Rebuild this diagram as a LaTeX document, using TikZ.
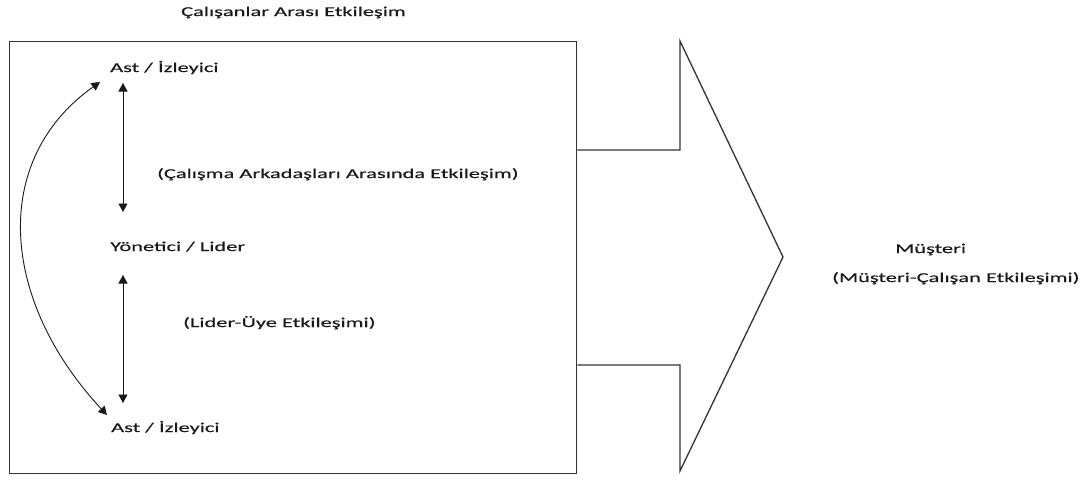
\documentclass[tikz,border=0pt]{standalone}
\usepackage{fontspec}
\setmainfont{Carlito}[FakeStretch=1.66,FakeBold=0.4]
\usetikzlibrary{arrows.meta}
\begin{document}
\begin{tikzpicture}[x=1pt,y=-1pt,
  lbl/.style={anchor=base west, inner sep=0pt, font=\fontsize{13.5}{16}\selectfont, text=black!90},
  frame/.style={draw=black!80, line width=1.3pt},
  dbl/.style={{Triangle[length=8.5pt,width=9pt]}-{Triangle[length=8.5pt,width=9pt]}, line width=0.9pt, draw=black!90}]
\useasboundingbox (0,0) rectangle (1080,480);
% box
\node[frame, anchor=north west, inner sep=0pt, minimum width=567pt, minimum height=432pt] (box) at (9,41) {};
% big arrow
\coordinate (s1) at (680,150);
\coordinate (s2) at (680,41);
\coordinate (tipp) at (783,257);
\coordinate (s3) at (680,471);
\coordinate (s4) at (680,365);
\draw[frame, line join=miter] (box.east |- s1) -- (s1) -- (s2) -- (tipp) -- (s3) -- (s4) -- (box.east |- s4);
% texts
\node[lbl] (title) at (181,16) {Çalışanlar Arası Etkileşim};
\node[lbl] (ast1) at (110,72) {Ast / İzleyici};
\node[lbl] (lab1) at (157,178) {(Çalışma Arkadaşları Arasında Etkileşim)};
\node[lbl] (lead) at (110,251) {Yönetici / Lider};
\node[lbl] (lab2) at (183,327) {(Lider-Üye Etkileşimi)};
\node[lbl] (ast2) at (111,432) {Ast / İzleyici};
\node[lbl] (must) at (895,253) {Müşteri};
\node[lbl] (lab3) at (832,282) {(Müşteri-Çalışan Etkileşimi)};
% connectors
\coordinate (v1a) at (123,83);
\coordinate (v1b) at (123,212);
\coordinate (v2a) at (123,275);
\coordinate (v2b) at (123,403);
\coordinate (c1) at (100,82);
\coordinate (c2) at (107,415);
\draw[dbl] (v1a) -- (v1b);
\draw[dbl] (v2a) -- (v2b);
\draw[dbl] (c1) .. controls (-10,160) and (0,300) .. (c2);
\end{tikzpicture}
\end{document}
